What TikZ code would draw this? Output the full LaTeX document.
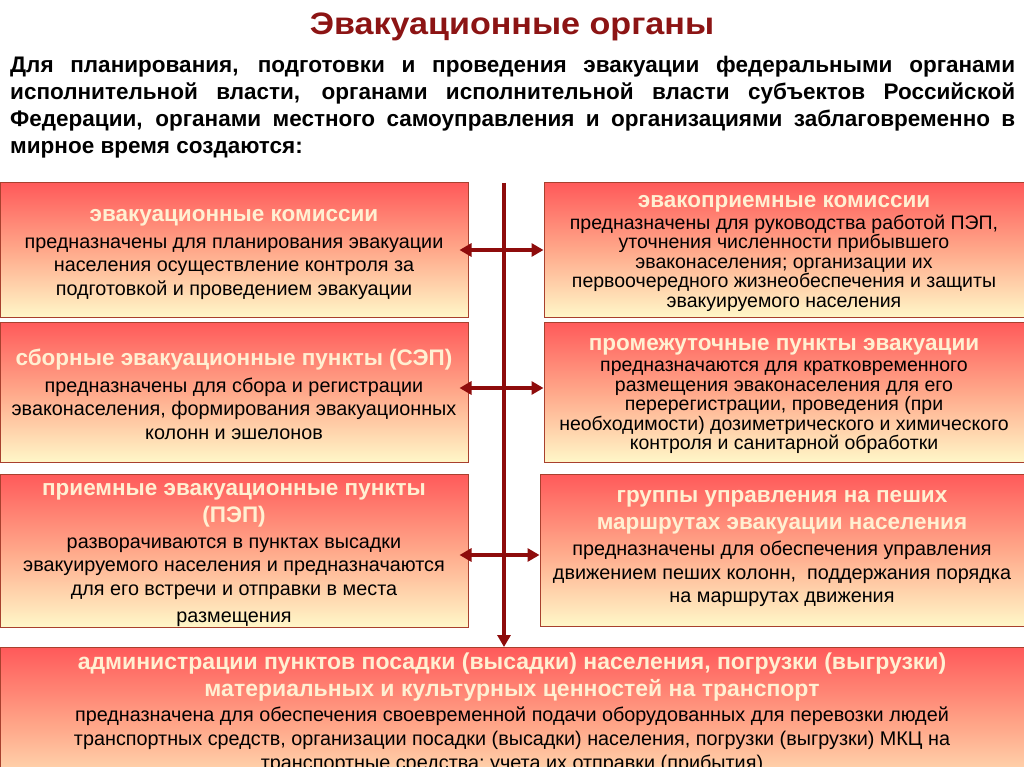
\documentclass[tikz,border=0pt]{standalone}
\usepackage{fontspec}
\setmainfont{Liberation Sans}
\newfontfamily\widefont[FakeStretch=1.1]{Liberation Sans}
\usetikzlibrary{arrows.meta}
\definecolor{titlered}{HTML}{8C1414}
\definecolor{boxtop}{HTML}{FF5A5A}
\definecolor{boxmid}{HTML}{FFA88A}
\definecolor{boxbot}{HTML}{FFF7C8}
\definecolor{boxline}{HTML}{A8402E}
\definecolor{cream}{HTML}{FFF0D2}
\definecolor{arrowred}{HTML}{8E0C0C}
\newcommand{\btitle}[1]{{\bfseries\fontsize{22.5}{23}\selectfont\color{cream}#1}}
\newcommand{\ntitle}[1]{{\bfseries\fontsize{23}{24}\selectfont\color{cream}#1}}
\tikzset{
  orgbox/.style={draw=boxline, line width=1pt, top color=boxtop, bottom color=boxbot,
    middle color=boxmid, inner sep=0pt},
  boxtext/.style={inner sep=0pt, align=center},
  lfont/.style={font=\fontsize{19.8}{23.5}\selectfont},
  rfont/.style={font=\fontsize{19.5}{19.5}\selectfont},
  conn/.style={draw=arrowred, line width=4pt},
  tip/.style={-{Triangle[length=12pt,width=13pt]}},
  dtip/.style={{Triangle[length=12pt,width=13pt]}-{Triangle[length=12pt,width=13pt]}}
}
\begin{document}
\begin{tikzpicture}[x=1pt,y=-1pt]
\path[use as bounding box] (0,0) rectangle (1024,767);
\clip (0,0) rectangle (1024,767);
\fill[white] (0,0) rectangle (1024,767);

\node[font=\widefont\bfseries\fontsize{31}{36}\selectfont, text=titlered] (title) at (512,27) {Эвакуационные органы};

\node[anchor=north west, text width=1005pt, align=justify, inner sep=0pt,
  font=\bfseries\fontsize{22.5}{27}\selectfont] (intro) at (10,56)
  {Для планирования, подготовки и проведения эвакуации федеральными органами\linebreak
   исполнительной власти, органами исполнительной власти субъектов Российской\linebreak
   Федерации, органами местного самоуправления и организациями заблаговременно в\linebreak
   мирное время создаются:};

% boxes
\node[orgbox, minimum width=468pt, minimum height=134pt] (L1) at (234,250) {};
\node[orgbox, minimum width=468pt, minimum height=140pt] (L2) at (234,392) {};
\node[orgbox, minimum width=468pt, minimum height=153pt] (L3) at (234,550.5) {};
\node[orgbox, minimum width=480pt, minimum height=134pt] (R1) at (784,250) {};
\node[orgbox, minimum width=480pt, minimum height=140pt] (R2) at (784,392) {};
\node[orgbox, minimum width=484pt, minimum height=152pt] (R3) at (782,550) {};
\node[orgbox, minimum width=1024pt, minimum height=160pt, anchor=north] (B) at (512,647) {};

% box texts
\node[boxtext, lfont] (L1t) at ([yshift=-4.5pt]L1.center)
  {\btitle{эвакуационные комиссии}\\[3pt]предназначены для планирования эвакуации\\населения осуществление контроля за\\подготовкой и проведением эвакуации};
\node[boxtext, lfont] (L2t) at ([yshift=-2.5pt]L2.center)
  {\btitle{сборные эвакуационные пункты (СЭП)}\\[3pt]предназначены для сбора и регистрации\\эваконаселения, формирования эвакуационных\\колонн и эшелонов};
\node[boxtext, lfont] (L3t) at ([yshift=-4pt]L3.center)
  {\btitle{приемные эвакуационные пункты}\\[3.5pt]\btitle{(ПЭП)}\\[2.5pt]разворачиваются в пунктах высадки\\эвакуируемого населения и предназначаются\\для его встречи и отправки в места\\[3.5pt]размещения};
\node[boxtext, rfont] (R1t) at ([yshift=-3pt]R1.center)
  {\btitle{эвакоприемные комиссии}\\[2.5pt]предназначены для руководства работой ПЭП,\\уточнения численности прибывшего\\эваконаселения; организации их\\первоочередного жизнеобеспечения и защиты\\эвакуируемого населения};
\node[boxtext, rfont] (R2t) at ([yshift=-4pt]R2.center)
  {\btitle{промежуточные пункты эвакуации}\\[2pt]предназначаются для кратковременного\\размещения эваконаселения для его\\перерегистрации, проведения (при\\необходимости) дозиметрического и химического\\контроля и санитарной обработки};
\node[boxtext, lfont] (R3t) at ([yshift=1.5pt]R3.center)
  {\btitle{группы управления на пеших}\\[3.5pt]\btitle{маршрутах эвакуации населения}\\[2.5pt]предназначены для обеспечения управления\\движением пеших колонн,\ \ поддержания порядка\\на маршрутах движения};
\node[boxtext, anchor=north, font=\fontsize{19.8}{24}\selectfont] (Bt) at ([yshift=-5.5pt]B.north)
  {\ntitle{администрации пунктов посадки (высадки) населения, погрузки (выгрузки)}\\[3pt]
   \ntitle{материальных и культурных ценностей на транспорт}\\[1pt]
   предназначена для обеспечения своевременной подачи оборудованных для перевозки людей\\
   транспортных средств, организации посадки (высадки) населения, погрузки (выгрузки) МКЦ на\\
   транспортные средства; учета их отправки (прибытия)};

% connectors
\coordinate (vtop) at (504,183);
\draw[conn, tip] (vtop) -- (vtop |- B.north);
\draw[conn, dtip, shorten <=-9pt] (L1.east) -- (R1.west);
\draw[conn, dtip, shorten <=-9pt] ([yshift=4pt]L2.east) -- ([yshift=4pt]L2.east -| R2.west);
\draw[conn, dtip, shorten <=-9pt] ([yshift=-4.5pt]L3.east) -- ([yshift=-4.5pt]L3.east -| R3.west);
\end{tikzpicture}
\end{document}
